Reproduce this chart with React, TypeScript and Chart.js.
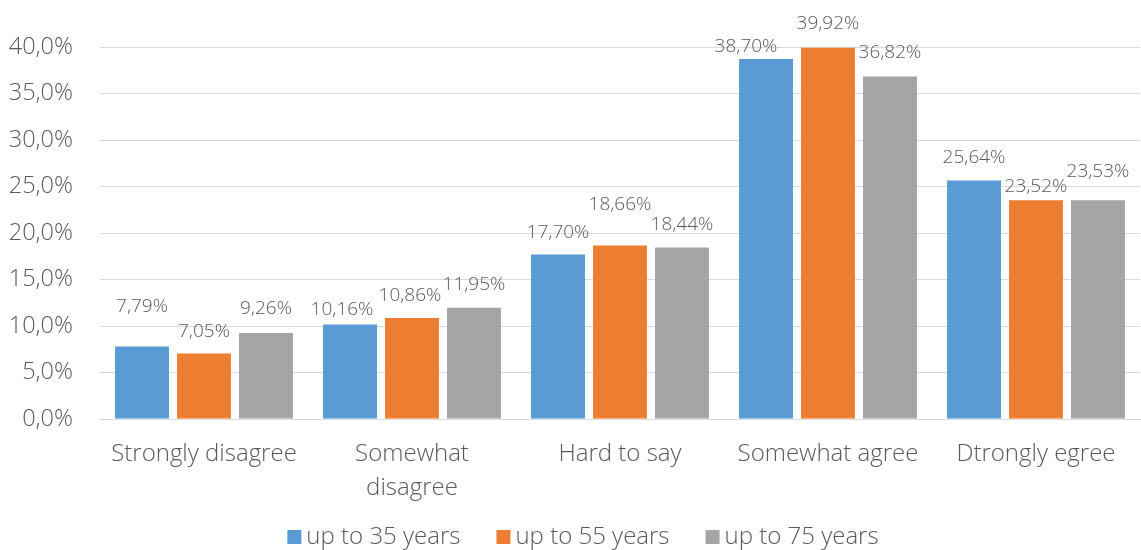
import React, { useEffect, useRef } from "react";
import { Chart, registerables } from "chart.js";

Chart.register(...registerables);

const categories: (string | string[])[] = [
  "Strongly disagree",
  ["Somewhat", "disagree"],
  "Hard to say",
  "Somewhat agree",
  "Dtrongly egree",
];
const seriesNames = ["up to 35 years", "up to 55 years", "up to 75 years"];
const upTo35 = [7.79, 10.16, 17.7, 38.7, 25.64];
const upTo55 = [7.05, 10.86, 18.66, 39.92, 23.52];
const upTo75 = [9.26, 11.95, 18.44, 36.82, 23.53];
const yTicks = [0, 5, 10, 15, 20, 25, 30, 35, 40];

// label nudges (px) to mimic manually placed labels
const LABEL_DY = [
  [40, 15, 22, 12, 23],
  [22, 22, 41, 24, 14],
  [24, 23, 23, 24, 29],
];
const LABEL_DX = [
  [0, -8, 0, -20, 0],
  [0, -2, 0, 0, 0],
  [0, 0, 0, 0, 0],
];

const COLORS = ["#5B9BD5", "#ED7D31", "#A5A5A5"];
const TEXT = "#595959";
const FONT = "'Open Sans', 'Noto Sans', sans-serif";
const WEIGHT = 300;

const fmtLabel = (v: number) => v.toFixed(2).replace(".", ",") + "%";
const fmtTick = (v: number) => v.toFixed(1).replace(".", ",") + "%";

const labelPlugin = {
  id: "barLabels",
  afterDatasetsDraw(chart: any) {
    const ctx = chart.ctx;
    ctx.save();
    ctx.font = `${WEIGHT} 19px ${FONT}`;
    ctx.fillStyle = TEXT;
    ctx.textAlign = "center";
    ctx.textBaseline = "middle";
    chart.data.datasets.forEach((ds: any, di: number) => {
      const meta = chart.getDatasetMeta(di);
      meta.data.forEach((bar: any, i: number) => {
        const v = ds.data[i] as number;
        ctx.fillText(fmtLabel(v), bar.x + LABEL_DX[di][i], bar.y - LABEL_DY[di][i]);
      });
    });
    ctx.restore();
  },
};

const LEGEND_CENTER_X = 583;
const LEGEND_Y = 537;
const legendPlugin = {
  id: "customLegend",
  afterDraw(chart: any) {
    const ctx = chart.ctx;
    ctx.save();
    ctx.font = `${WEIGHT} 24px ${FONT}`;
    ctx.textBaseline = "middle";
    ctx.textAlign = "left";
    const box = 14;
    const gap = 5;
    const spacing = 36;
    const items = chart.data.datasets.map((ds: any) => ({
      label: ds.label,
      color: ds.backgroundColor,
      w: ctx.measureText(ds.label).width,
    }));
    const total =
      items.reduce((s: number, it: any) => s + box + gap + it.w, 0) +
      spacing * (items.length - 1);
    let x = LEGEND_CENTER_X - total / 2;
    items.forEach((it: any) => {
      ctx.fillStyle = it.color;
      ctx.fillRect(x, LEGEND_Y - box / 2, box, box);
      x += box + gap;
      ctx.fillStyle = TEXT;
      ctx.fillText(it.label, x, LEGEND_Y);
      x += it.w + spacing;
    });
    ctx.restore();
  },
};

export default function App() {
  const ref = useRef<HTMLCanvasElement | null>(null);
  useEffect(() => {
    if (!ref.current) return;
    const seriesData = [upTo35, upTo55, upTo75];
    const chart = new Chart(ref.current, {
      type: "bar",
      data: {
        labels: categories,
        datasets: seriesNames.map((name, i) => ({
          label: name,
          data: seriesData[i],
          backgroundColor: COLORS[i],
          borderWidth: 0,
          categoryPercentage: 0.894,
          barPercentage: 0.87,
        })),
      },
      options: {
        animation: false,
        responsive: true,
        maintainAspectRatio: false,
        layout: { padding: { top: 47, right: 1, left: 0, bottom: 41 } },
        plugins: {
          tooltip: { enabled: false },
          legend: { display: false },
        },
        scales: {
          x: {
            grid: { display: false },
            border: { display: true, color: "#D9D9D9", width: 1 },
            ticks: {
              color: TEXT,
              font: { family: FONT, size: 24, lineHeight: 1.42, weight: WEIGHT },
              padding: 10,
              maxRotation: 0,
              autoSkip: false,
            },
            afterFit: (scale: any) => {
              scale.height = 90;
            },
          },
          y: {
            min: 0,
            max: 40,
            afterBuildTicks: (scale: any) => {
              scale.ticks = yTicks.map((v) => ({ value: v }));
            },
            grid: { color: "#D9D9D9", lineWidth: 1, drawTicks: false },
            border: { display: false },
            ticks: {
              color: TEXT,
              font: { family: FONT, size: 23.5, weight: WEIGHT },
              padding: 27,
              callback: (v: any) => fmtTick(Number(v)),
            },
            afterFit: (scale: any) => {
              scale.width = 100;
            },
          },
        },
      },
      plugins: [labelPlugin, legendPlugin],
    });
    return () => chart.destroy();
  }, []);
  return (
    <div
      style={{
        position: "fixed",
        left: 0,
        top: 0,
        width: 1141,
        height: 550,
        background: "#fff",
      }}
    >
      <canvas ref={ref} />
    </div>
  );
}
